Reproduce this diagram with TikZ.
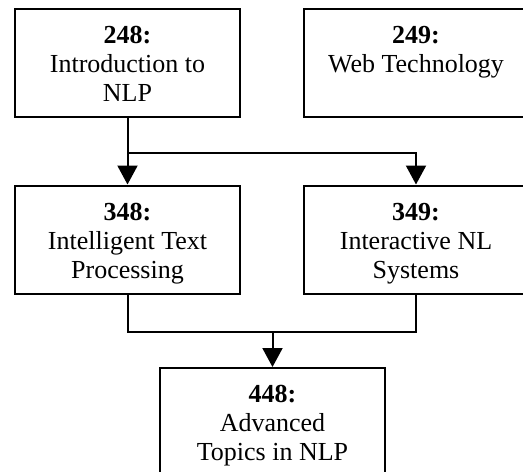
\documentclass[tikz,border=0pt]{standalone}
\usepackage{fontspec}
\setmainfont{Liberation Serif}
\usetikzlibrary{arrows.meta}
\begin{document}
\begin{tikzpicture}[x=1pt,y=-1pt,
  box/.style={draw=black, line width=2pt, minimum width=225pt, minimum height=108pt, inner sep=0pt, fill=white},
  lbl/.style={align=center, inner sep=0pt, font=\fontsize{26}{29}\selectfont, text=black},
  conn/.style={draw=black, line width=2pt},
  arr/.style={conn, -{Triangle[length=19pt,width=20pt]}}]
\useasboundingbox (0,0) rectangle (523,472);
\clip (0,0) rectangle (523,472);
\node[box] (n248) at (127.5,63) {};
\node[box] (n249) at (416,63) {};
\node[box] (n348) at (127.5,239.5) {};
\node[box] (n349) at (416,239.5) {};
\node[box] (n448) at (272.5,422) {};
\node[lbl, anchor=base] (t248) at (127.5,101) {\textbf{248:}\\Introduction to\\NLP};
\node[lbl, anchor=base] (t249) at (416,72) {\textbf{249:}\\Web Technology};
\node[lbl, anchor=base] (t348) at (127.5,278) {\textbf{348:}\\Intelligent Text\\Processing};
\node[lbl, anchor=base] (t349) at (416,278) {\textbf{349:}\\Interactive NL\\Systems};
\node[lbl, anchor=base] (t448) at (272.5,460) {\textbf{448:}\\Advanced\\Topics in NLP};
\coordinate (j1) at (127.5,153);
\coordinate (j2) at (272.5,332);
\draw[arr] (n248.south) -- (n348.north);
\draw[arr] (j1) -| (n349.north);
\draw[conn] (n348.south) -- (n348.south |- j2) -- (n349.south |- j2) -- (n349.south);
\draw[arr] (j2) -- (n448.north);
\end{tikzpicture}
\end{document}
